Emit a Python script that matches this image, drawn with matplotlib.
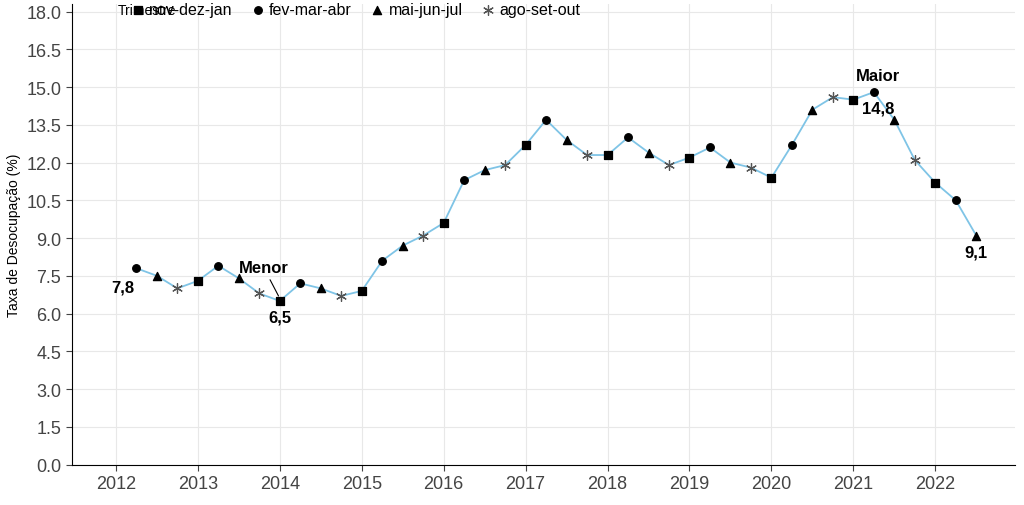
import numpy as np
import matplotlib.pyplot as plt

# quarterly unemployment rate, starting fev-mar-abr 2012
x = np.arange(2012.25, 2022.51, 0.25)
taxa = [7.8, 7.5, 7.0, 7.3, 7.9, 7.4, 6.8, 6.5, 7.2, 7.0, 6.7, 6.9,
        8.1, 8.7, 9.1, 9.6, 11.3, 11.7, 11.9, 12.7, 13.7, 12.9, 12.3, 12.3,
        13.0, 12.4, 11.9, 12.2, 12.6, 12.0, 11.8, 11.4, 12.7, 14.1, 14.6, 14.5,
        14.8, 13.7, 12.1, 11.2, 10.5, 9.1]
trimestres = ["nov-dez-jan", "fev-mar-abr", "mai-jun-jul", "ago-set-out"]
marcadores = ["s", "o", "^", (6, 2, 0)]
tamanhos = [30, 30, 35, 50]
cores = ["black", "black", "black", "#555555"]

plt.rcParams["font.family"] = "Liberation Sans"
fig = plt.figure(figsize=(10.24, 5.06), dpi=100)
ax = fig.add_axes([0.07, 0.08, 0.921, 0.91])

ax.plot(x, taxa, color="#7fc4e6", lw=1.3, zorder=2)
xa = np.array(x)
ta = np.array(taxa)
q = np.round((xa % 1) / 0.25).astype(int) % 4
for i, nome in enumerate(trimestres):
    m = q == i
    ax.scatter(xa[m], ta[m], marker=marcadores[i], s=tamanhos[i], color=cores[i],
               linewidths=0.9, zorder=3, label=nome)

ax.set_xlim(2011.46, 2022.97)
ax.set_ylim(0, 18.3)
ax.set_xticks(range(2012, 2023))
ax.set_yticks(np.arange(0, 18.01, 1.5))
ax.set_yticklabels([f"{v:.1f}" for v in np.arange(0, 18.01, 1.5)])
ax.tick_params(labelsize=13, colors="#444444", length=4)
ax.grid(color="#e8e8e8", lw=0.8)
ax.set_axisbelow(True)
for s in ["top", "right"]:
    ax.spines[s].set_visible(False)
ax.set_ylabel("Taxa de Desocupação (%)", fontsize=10)

fb = dict(fontsize=12, fontweight="bold")
ax.text(2012.25 - 0.02, 7.8 - 0.45, "7,8", ha="right", va="top", **fb)
ax.text(2014.0, 6.5 - 0.35, "6,5", ha="center", va="top", **fb)
ax.annotate("Menor", xy=(2014.0, 6.6), xytext=(2013.8, 7.85), ha="center", va="center",
            arrowprops=dict(arrowstyle="-", color="black", lw=0.8), **fb)
ax.text(2021.3, 14.8 + 0.35, "Maior", ha="center", va="bottom", **fb)
ax.text(2021.3, 14.8 - 0.35, "14,8", ha="center", va="top", **fb)
ax.text(2022.5, 9.1 - 0.35, "9,1", ha="center", va="top", **fb)

fig.text(0.115, 0.979, "Trimestre", fontsize=10, va="center")
ax.legend(loc="center left", bbox_to_anchor=(0.125, 0.979), bbox_transform=fig.transFigure,
          ncol=4, frameon=False, fontsize=11.5, handletextpad=0.1, columnspacing=1.0,
          borderaxespad=0, borderpad=0, handlelength=1.2)
fig.savefig("out.png", dpi=100)
